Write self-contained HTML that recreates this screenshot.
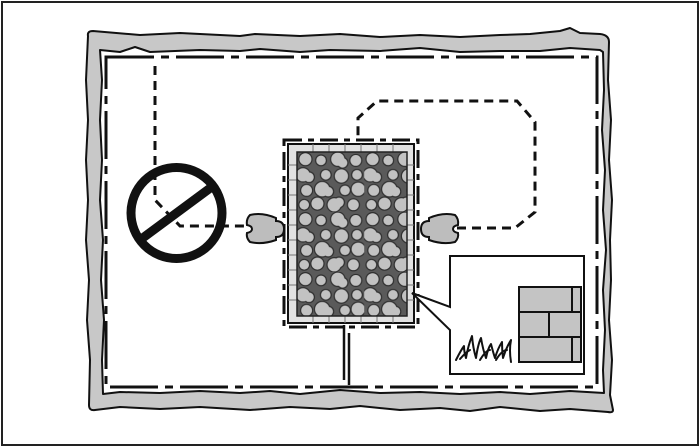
<!DOCTYPE html>
<html><head><meta charset="utf-8"><style>html,body{margin:0;padding:0;background:#fff}svg{display:block}</style></head>
<body>
<svg width="700" height="447" viewBox="0 0 700 447" xmlns="http://www.w3.org/2000/svg">
<defs>
<pattern id="stones" x="0" y="0" width="56" height="50" patternUnits="userSpaceOnUse" patternTransform="translate(297,152) scale(1.2)">
<rect width="56" height="50" fill="#5a5a5a"/>
<g fill="#2e2e2e">
<circle cx="7" cy="6" r="6"/><circle cx="20" cy="7" r="5"/><circle cx="34" cy="6" r="6.5"/><circle cx="38" cy="9" r="5"/><circle cx="49" cy="7" r="5.5"/>
<circle cx="5" cy="19" r="6.5"/><circle cx="10" cy="21" r="5"/><circle cx="24" cy="19" r="5"/><circle cx="37" cy="20" r="6.5"/><circle cx="50" cy="19" r="5"/>
<circle cx="8" cy="32" r="5.5"/><circle cx="21" cy="31" r="7"/><circle cx="26" cy="33" r="5"/><circle cx="40" cy="32" r="5"/><circle cx="51" cy="31" r="6.5"/>
<circle cx="6" cy="44" r="5"/><circle cx="17" cy="43" r="6"/><circle cx="31" cy="44" r="6.5"/><circle cx="35" cy="42" r="5"/><circle cx="47" cy="44" r="5.5"/>
</g>
<g fill="#c2c2c2">
<circle cx="7" cy="6" r="5"/><circle cx="20" cy="7" r="4"/><circle cx="34" cy="6" r="5.5"/><circle cx="38" cy="9" r="4"/><circle cx="49" cy="7" r="4.5"/>
<circle cx="5" cy="19" r="5.5"/><circle cx="10" cy="21" r="4"/><circle cx="24" cy="19" r="4"/><circle cx="37" cy="20" r="5.5"/><circle cx="50" cy="19" r="4"/>
<circle cx="8" cy="32" r="4.5"/><circle cx="21" cy="31" r="6"/><circle cx="26" cy="33" r="4"/><circle cx="40" cy="32" r="4"/><circle cx="51" cy="31" r="5.5"/>
<circle cx="6" cy="44" r="4"/><circle cx="17" cy="43" r="5"/><circle cx="31" cy="44" r="5.5"/><circle cx="35" cy="42" r="4"/><circle cx="47" cy="44" r="4.5"/>
</g>
</pattern>
</defs>
<rect x="2" y="2" width="696" height="443" fill="#fff" stroke="#222" stroke-width="2"/>
<path fill="#c8c8c8" fill-rule="evenodd" stroke="#111" stroke-width="2" stroke-linejoin="round" d="M88,36 Q87,31 93,31 L140,35 L180,33 L240,36 L255,34 L300,36 L340,34 L380,37 L420,35 L460,37 L500,35 L530,34 L560,31 L570,28 L580,33 L600,34 Q609,35 609,42 L608,80 L611,120 L609,160 L612,200 L610,240 L611,280 L609,320 L612,360 L610,395 L613,410 Q613,413 608,412 L570,409 L540,411 L500,407 L470,411 L440,408 L400,410 L360,406 L330,409 L290,407 L250,410 L200,407 L160,409 L120,407 L95,410 Q89,411 89,405 L90,360 L87,320 L89,280 L86,240 L88,200 L86,160 L88,120 L86,80 Z M100,50 L120,52 L135,47 L150,52 L200,50 L240,51 L260,49 L300,52 L330,50 L380,51 L420,48 L460,52 L500,51 L540,51 L570,48 L600,50 L603,52 L604,90 L602,130 L605,170 L603,210 L606,250 L603,290 L605,330 L603,370 L604,393 L570,391 L530,394 L500,392 L460,394 L420,392 L380,393 L340,390 L300,394 L270,391 L240,393 L200,391 L160,393 L120,392 L103,394 L102,360 L104,320 L101,280 L103,240 L100,200 L102,160 L100,120 L102,80 Z"/>
<path d="M106,57 H597 V387 H106 Z" fill="none" stroke="#111" stroke-width="3" stroke-dasharray="48 7 8 7"/>
<path d="M155,66 V200 L180,226 H248" fill="none" stroke="#111" stroke-width="3" stroke-dasharray="9 6"/>
<path d="M457,228 H515 L535,212 V122 L517,101 H377 L358,118 V140" fill="none" stroke="#111" stroke-width="3" stroke-dasharray="9 6"/>
<circle cx="176.5" cy="213" r="45.5" fill="none" stroke="#111" stroke-width="9"/>
<line x1="140" y1="240" x2="213" y2="186" stroke="#111" stroke-width="9"/>
<path d="M284,140 H418 V327 H284 Z" fill="none" stroke="#111" stroke-width="3" stroke-dasharray="18 6 6 6"/>
<rect x="288" y="144" width="126" height="179" fill="#e2e2e2" stroke="#111" stroke-width="2"/>
<g stroke="#777" stroke-width="1">
<line x1="313" y1="144" x2="313" y2="152"/><line x1="329" y1="144" x2="329" y2="152"/><line x1="345" y1="144" x2="345" y2="152"/><line x1="361" y1="144" x2="361" y2="152"/><line x1="377" y1="144" x2="377" y2="152"/><line x1="393" y1="144" x2="393" y2="152"/>
<line x1="313" y1="316" x2="313" y2="323"/><line x1="329" y1="316" x2="329" y2="323"/><line x1="345" y1="316" x2="345" y2="323"/><line x1="361" y1="316" x2="361" y2="323"/><line x1="377" y1="316" x2="377" y2="323"/><line x1="393" y1="316" x2="393" y2="323"/>
<line x1="288" y1="165" x2="297" y2="165"/><line x1="288" y1="180" x2="297" y2="180"/><line x1="288" y1="195" x2="297" y2="195"/><line x1="288" y1="210" x2="297" y2="210"/><line x1="288" y1="225" x2="297" y2="225"/><line x1="288" y1="240" x2="297" y2="240"/><line x1="288" y1="255" x2="297" y2="255"/><line x1="288" y1="270" x2="297" y2="270"/><line x1="288" y1="285" x2="297" y2="285"/><line x1="288" y1="300" x2="297" y2="300"/>
<line x1="407" y1="165" x2="414" y2="165"/><line x1="407" y1="180" x2="414" y2="180"/><line x1="407" y1="195" x2="414" y2="195"/><line x1="407" y1="210" x2="414" y2="210"/><line x1="407" y1="225" x2="414" y2="225"/><line x1="407" y1="240" x2="414" y2="240"/><line x1="407" y1="255" x2="414" y2="255"/><line x1="407" y1="270" x2="414" y2="270"/><line x1="407" y1="285" x2="414" y2="285"/><line x1="407" y1="300" x2="414" y2="300"/>
</g>
<rect x="297" y="152" width="110" height="164" fill="url(#stones)" stroke="#222" stroke-width="1.5"/>
<line x1="344" y1="325" x2="344" y2="380" stroke="#111" stroke-width="2.5"/>
<line x1="349" y1="333" x2="349" y2="385" stroke="#111" stroke-width="2.5"/>
<path d="M250,215 Q262,212 276,218 L276,221 Q284,221 284,229 Q284,237 276,237 L276,240 Q262,245 250,242 Q246,238 247,233 Q252,232 252,229 Q252,226 247,225 Q246,219 250,215 Z" fill="#bdbdbd" stroke="#111" stroke-width="2"/>
<path transform="translate(705,0) scale(-1,1)" d="M250,215 Q262,212 276,218 L276,221 Q284,221 284,229 Q284,237 276,237 L276,240 Q262,245 250,242 Q246,238 247,233 Q252,232 252,229 Q252,226 247,225 Q246,219 250,215 Z" fill="#bdbdbd" stroke="#111" stroke-width="2"/>
<path d="M450,256 H584 V374 H450 V330 L412,293 L450,307 Z" fill="#fff" stroke="#111" stroke-width="2" stroke-linejoin="miter"/>
<rect x="519" y="287" width="62" height="75" fill="#c4c4c4" stroke="#111" stroke-width="2"/>
<g stroke="#111" stroke-width="2">
<line x1="519" y1="312" x2="581" y2="312"/><line x1="519" y1="337" x2="581" y2="337"/>
<line x1="572" y1="287" x2="572" y2="312"/><line x1="549" y1="312" x2="549" y2="337"/><line x1="572" y1="337" x2="572" y2="362"/>
</g>
<g fill="none" stroke="#111" stroke-width="2" stroke-linejoin="round" stroke-linecap="round">
<path d="M456,360 Q461,350 464,346 Q464,352 466,358 Q468,346 472,336 Q473,348 476,358 Q478,344 481,338 Q483,350 486,358 Q488,348 491,344 Q493,352 495,358 Q498,348 502,342 Q502,350 503,358 Q506,348 511,340 Q509,350 511,362"/>
<path d="M460,359 Q466,352 470,350 M480,360 Q486,350 490,350 M496,360 Q502,350 507,350"/>
</g>
</svg>
</body></html>
